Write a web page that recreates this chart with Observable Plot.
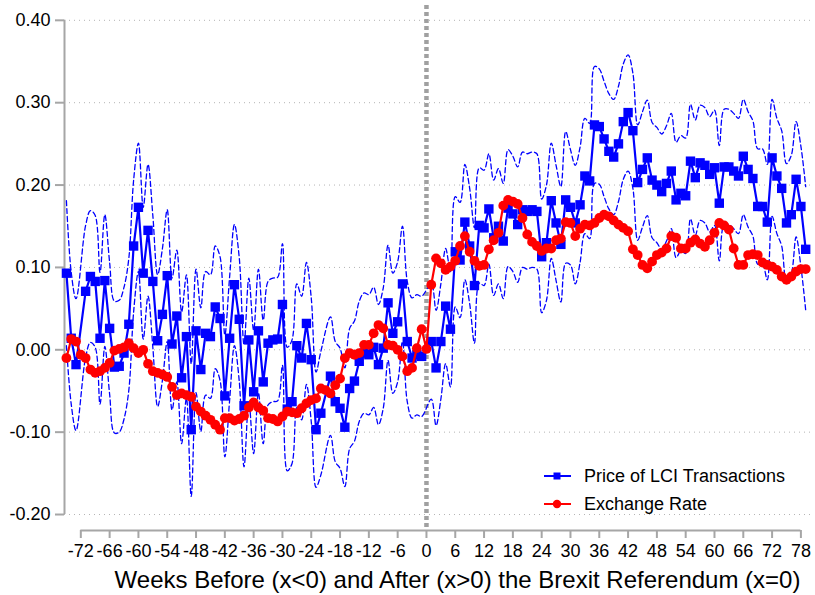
<!DOCTYPE html>
<html>
<head>
<meta charset="utf-8">
<script src="https://cdn.jsdelivr.net/npm/d3@7"></script>
<script src="https://cdn.jsdelivr.net/npm/@observablehq/plot@0.6"></script>
<style>
  body { margin: 0; background: #fff; font-family: "Liberation Sans", Arial, sans-serif; }
  #wrap { position: relative; width: 815px; height: 595px; }
  #legend { position: absolute; left: 540px; top: 462px; font-size: 18px; color: #000; }
  .row { display: flex; align-items: center; height: 28px; white-space: nowrap; }
  .row svg { margin-right: 12px; }
</style>
</head>
<body>
<div id="wrap"><div id="chart"></div><div id="legend"></div></div>
<script>
// ---- data ----
const xTitle = "Weeks Before (x<0) and After (x>0) the Brexit Referendum (x=0)";
const xTicks = [-72,-66,-60,-54,-48,-42,-36,-30,-24,-18,-12,-6,0,6,12,18,24,30,36,42,48,54,60,66,72,78];
const yTicks = [-0.2,-0.1,0,0.1,0.2,0.3,0.4];
const seriesNames = ["Price of LCI Transactions", "Exchange Rate"];
const seriesColors = ["#0000ff", "#ff0000"];

const blueWeeks = [-75,-74,-73,-71,-70,-69,-68,-67,-66,-65,-64,-63,-62,-61,-60,-59,-58,-57,-56,-55,-54,-53,-52,-51,
  -50,-49,-48,-47,-46,-45,-44,-43,-42,-41,-40,-39,-38,-37,-36,-35,-34,-33,-32,-31,
  -30,-29,-28,-27,-26,-25,-24,-23,-22,-20,-19,-18,-17,-16,-15,-14,-13,-12,-11,-10,-9,-8,-7,-6,-5,-4,-3,-2,-1,
  1,2,3,4,5,6,7,8,9,10,11,12,13,14,15,16,17,18,19,20,21,22,23,24,25,
  26,27,28,29,30,31,32,33,34,35,36,37,38,39,40,41,42,43,44,45,46,47,48,49,50,51,
  52,53,54,55,56,57,58,59,60,61,62,63,64,65,66,67,68,69,70,71,72,73,74,75,76,77,78,79];
const blueValues = [0.093,0.014,-0.018,0.071,0.089,0.083,0.014,0.084,0.026,-0.021,-0.020,-0.004,0.031,0.126,0.173,0.093,0.145,0.083,0.011,0.043,0.090,0.007,0.041,-0.034,
  0.016,-0.097,0.023,-0.024,0.020,0.016,0.052,0.038,-0.056,0.014,0.079,0.037,-0.068,0.012,-0.051,0.023,-0.039,0.008,0.012,0.013,
  0.055,-0.072,-0.063,0.005,-0.010,0.032,-0.012,-0.097,-0.077,-0.032,-0.063,-0.071,-0.094,-0.047,-0.038,-0.014,-0.004,-0.006,0.003,-0.018,0.002,0.057,0.020,0.034,0.080,0.010,-0.010,-0.006,-0.008,
  0.010,-0.022,0.010,0.053,0.025,0.119,0.109,0.155,0.126,0.078,0.151,0.148,0.171,0.136,0.150,0.132,0.172,0.165,0.152,0.170,0.168,0.170,0.168,0.113,0.130,
  0.181,0.154,0.128,0.182,0.173,0.154,0.176,0.211,0.205,0.273,0.271,0.256,0.241,0.234,0.250,0.277,0.288,0.266,0.203,0.219,0.233,0.206,0.200,0.192,0.202,0.217,
  0.182,0.190,0.187,0.229,0.209,0.227,0.224,0.213,0.221,0.178,0.222,0.222,0.217,0.211,0.235,0.219,0.208,0.174,0.174,0.155,0.233,0.211,0.196,0.154,0.164,0.207,0.174,0.122];
const ciUpper = [0.181,0.094,0.062,0.151,0.169,0.163,0.094,0.164,0.106,0.059,0.060,0.076,0.111,0.206,0.251,0.173,0.225,0.163,0.091,0.123,0.170,0.087,0.121,0.046,
  0.091,-0.017,0.098,0.051,0.095,0.091,0.126,0.113,0.018,0.089,0.152,0.112,0.006,0.087,0.024,0.098,0.036,0.083,0.087,0.088,
  0.129,0.003,0.012,0.080,0.065,0.106,0.063,-0.027,-0.002,0.040,0.010,0.002,-0.022,0.026,0.035,0.059,0.069,0.067,0.076,0.055,0.075,0.127,0.093,0.107,0.150,0.083,0.063,0.067,0.065,
  0.080,0.048,0.080,0.123,0.095,0.186,0.179,0.225,0.196,0.148,0.221,0.218,0.238,0.206,0.220,0.202,0.243,0.235,0.222,0.240,0.238,0.240,0.238,0.183,0.200,
  0.251,0.224,0.198,0.265,0.243,0.224,0.246,0.281,0.275,0.344,0.341,0.326,0.311,0.304,0.320,0.347,0.358,0.336,0.273,0.289,0.303,0.276,0.270,0.262,0.272,0.287,
  0.252,0.260,0.257,0.298,0.279,0.297,0.294,0.283,0.291,0.248,0.292,0.292,0.287,0.281,0.304,0.289,0.278,0.244,0.244,0.225,0.304,0.281,0.266,0.226,0.236,0.277,0.247,0.198];
const ciLower = [0.005,-0.066,-0.098,-0.009,0.009,0.003,-0.066,0.004,-0.054,-0.101,-0.100,-0.084,-0.049,0.046,0.095,0.013,0.065,0.003,-0.069,-0.037,0.010,-0.073,-0.039,-0.114,
  -0.059,-0.178,-0.052,-0.099,-0.055,-0.059,-0.023,-0.037,-0.130,-0.061,0.005,-0.038,-0.142,-0.063,-0.126,-0.052,-0.114,-0.067,-0.063,-0.062,
  -0.019,-0.147,-0.138,-0.070,-0.085,-0.042,-0.087,-0.167,-0.152,-0.104,-0.136,-0.144,-0.166,-0.120,-0.111,-0.087,-0.077,-0.079,-0.070,-0.091,-0.071,-0.013,-0.053,-0.039,0.010,-0.063,-0.083,-0.079,-0.081,
  -0.060,-0.092,-0.060,-0.017,-0.045,0.052,0.039,0.085,0.056,0.008,0.081,0.078,0.104,0.066,0.080,0.062,0.101,0.095,0.082,0.100,0.098,0.100,0.098,0.045,0.060,
  0.111,0.084,0.058,0.105,0.103,0.080,0.106,0.141,0.135,0.202,0.201,0.186,0.171,0.164,0.180,0.207,0.217,0.196,0.133,0.149,0.163,0.136,0.130,0.122,0.132,0.147,
  0.112,0.120,0.117,0.159,0.139,0.157,0.154,0.143,0.151,0.108,0.152,0.152,0.147,0.141,0.164,0.149,0.138,0.104,0.104,0.085,0.162,0.141,0.126,0.082,0.092,0.137,0.101,0.048];

const redWeeks = [-75,-74,-73,-72,-71,-70,-69,-68,-67,-66,-65,-64,-63,-62,-61,-60,-59,-58,-57,-56,-55,-54,-53,-52,-51,
  -50,-49,-48,-47,-46,-45,-44,-43,-42,-41,-40,-39,-38,-37,-36,-35,-34,-33,-32,-31,
  -30,-29,-28,-27,-26,-25,-24,-23,-22,-21,-20,-19,-18,-17,-16,-15,-14,-13,-12,-11,-10,-9,-8,-7,-6,-5,-4,-3,-2,-1,0,
  1,2,3,4,5,6,7,8,9,10,11,12,13,14,15,16,17,18,19,20,21,22,23,24,25,
  26,27,28,29,30,31,32,33,34,35,36,37,38,39,40,41,42,43,44,45,46,47,48,49,50,51,
  52,53,54,55,56,57,58,59,60,61,62,63,64,65,66,67,68,69,70,71,72,73,74,75,76,77,78,79];
const redValues = [-0.010,0.013,0.010,-0.006,-0.010,-0.024,-0.028,-0.026,-0.022,-0.016,-0.001,0.001,0.003,0.008,0.002,-0.004,0.000,-0.017,-0.026,-0.028,-0.030,-0.033,-0.045,-0.055,-0.053,
  -0.055,-0.057,-0.069,-0.075,-0.080,-0.085,-0.091,-0.097,-0.083,-0.083,-0.086,-0.084,-0.080,-0.070,-0.064,-0.070,-0.074,-0.083,-0.084,-0.087,
  -0.081,-0.075,-0.076,-0.077,-0.071,-0.065,-0.061,-0.059,-0.047,-0.049,-0.053,-0.043,-0.035,-0.010,-0.004,-0.006,-0.004,0.006,0.006,0.020,0.030,0.026,0.006,0.005,0.000,-0.008,-0.026,-0.022,0.002,0.025,0.001,
  0.079,0.111,0.105,0.097,0.101,0.108,0.126,0.138,0.119,0.108,0.102,0.103,0.122,0.133,0.142,0.175,0.182,0.180,0.177,0.160,0.140,0.131,0.126,0.120,0.123,
  0.123,0.133,0.135,0.155,0.154,0.138,0.147,0.152,0.151,0.154,0.160,0.164,0.162,0.157,0.152,0.148,0.144,0.122,0.115,0.103,0.099,0.107,0.115,0.118,0.123,0.138,
  0.136,0.123,0.123,0.130,0.134,0.129,0.125,0.133,0.142,0.154,0.151,0.146,0.123,0.103,0.103,0.115,0.116,0.115,0.106,0.103,0.101,0.097,0.089,0.085,0.089,0.095,0.098,0.098];

// ---- chart ----
const blueData = blueWeeks.map((w, i) => ({week: w, value: blueValues[i], upper: ciUpper[i], lower: ciLower[i]}));
const redData = redWeeks.map((w, i) => ({week: w, value: redValues[i]}));
const xDomain = [-75.4, 80];
const yDomain = [-0.2194, 0.418];
const axisGray = "#a6a6a6";
const font = '"Liberation Sans", Arial, sans-serif';

const chart = Plot.plot({
  width: 815, height: 595,
  marginLeft: 64, marginRight: 5, marginTop: 5, marginBottom: 65,
  style: {fontFamily: font, fontSize: "18px", background: "#fff", color: "#000", overflow: "visible"},
  x: {domain: xDomain, label: null},
  y: {domain: yDomain, label: null},
  marks: [
    Plot.gridY(yTicks, {stroke: "#b4b4b4", strokeOpacity: 1, strokeWidth: 1, strokeDasharray: "1,4"}),
    Plot.ruleX([0], {stroke: "#a0a0a0", strokeWidth: 4.5, strokeDasharray: "4,3"}),
    Plot.ruleX([xDomain[0]], {y1: yTicks[0], y2: yTicks[yTicks.length - 1], stroke: axisGray, strokeWidth: 2}),
    Plot.ruleY([yDomain[0]], {x1: xTicks[0], x2: xTicks[xTicks.length - 1], stroke: axisGray, strokeWidth: 2}),
    Plot.axisY(yTicks, {tickSize: 9, tickPadding: 5, tickFormat: d => d.toFixed(2), stroke: axisGray, strokeWidth: 2, fill: "#000", fontSize: 18, label: null}),
    Plot.axisX(xTicks, {tickSize: 8, tickPadding: 6, tickFormat: d => String(d), stroke: axisGray, strokeWidth: 2, fill: "#000", fontSize: 18, label: null}),
    Plot.line(blueData, {x: "week", y: "upper", stroke: seriesColors[0], strokeWidth: 1.3, strokeDasharray: "5,3", curve: "catmull-rom"}),
    Plot.line(blueData, {x: "week", y: "lower", stroke: seriesColors[0], strokeWidth: 1.3, strokeDasharray: "5,3", curve: "catmull-rom"}),
    Plot.line(blueData, {x: "week", y: "value", stroke: seriesColors[0], strokeWidth: 2.2}),
    Plot.dot(blueData, {x: "week", y: "value", symbol: "square", r: 5.3, fill: seriesColors[0]}),
    Plot.line(redData, {x: "week", y: "value", stroke: seriesColors[1], strokeWidth: 2.2}),
    Plot.dot(redData, {x: "week", y: "value", r: 4.9, fill: seriesColors[1]}),
    Plot.text([xTitle], {text: d => d, frameAnchor: "bottom", dx: 20, dy: 50, fontSize: 24, lineAnchor: "middle", fill: "#000"})
  ]
});
document.getElementById("chart").appendChild(chart);

// ---- legend (inside plot, lower right) ----
const legend = document.getElementById("legend");
seriesNames.forEach((name, i) => {
  const row = document.createElement("div");
  row.className = "row";
  const marker = i === 0
    ? `<rect x="13.5" y="2.5" width="7" height="7" fill="${seriesColors[i]}"/>`
    : `<circle cx="17" cy="6" r="4.2" fill="${seriesColors[i]}"/>`;
  row.innerHTML = `<svg width="32" height="12"><line x1="4" x2="31" y1="6" y2="6" stroke="${seriesColors[i]}" stroke-width="2"/>${marker}</svg><span>${name}</span>`;
  legend.appendChild(row);
});
</script>
</body>
</html>
